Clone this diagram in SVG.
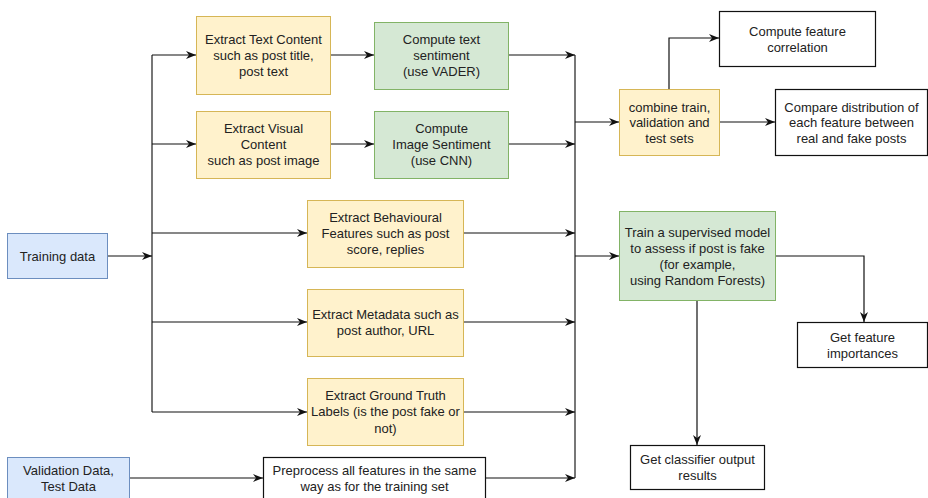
<svg xmlns="http://www.w3.org/2000/svg" width="928" height="498" viewBox="0 0 928 498">
<style>
  text { font-family: "Liberation Sans", Arial, Helvetica, sans-serif; font-size: 13px; fill: #222; text-anchor: middle; dominant-baseline: central; }
  .y { fill: #fff2cc; stroke: #d6b656; stroke-width: 1; }
  .g { fill: #d5e8d4; stroke: #82b366; stroke-width: 1; }
  .b { fill: #dae8fc; stroke: #6c8ebf; stroke-width: 1; }
  .w { fill: #ffffff; stroke: #111; stroke-width: 1.2; }
  .c { fill: none; stroke: #111; stroke-width: 1.2; }
  .bus { fill: none; stroke: #555; stroke-width: 1.6; }
</style>
<defs>
  <marker id="ah" markerUnits="userSpaceOnUse" markerWidth="10" markerHeight="10" refX="10" refY="5" orient="auto">
    <path d="M0,1 L10,5 L0,9 L3,5 z" fill="#111"/>
  </marker>
</defs>
<rect width="928" height="498" fill="#ffffff"/>

<g id="connectors">
  <path class="bus" d="M152,55 V412"/>
  <path class="bus" d="M575,55 V478"/>
  <path class="c" d="M107,256 H152" marker-end="url(#ah)"/>
  <path class="c" d="M152,55 H196" marker-end="url(#ah)"/>
  <path class="c" d="M152,144 H196" marker-end="url(#ah)"/>
  <path class="c" d="M152,233 H307" marker-end="url(#ah)"/>
  <path class="c" d="M152,322 H307" marker-end="url(#ah)"/>
  <path class="c" d="M152,412 H307" marker-end="url(#ah)"/>
  <path class="c" d="M331,55 H374" marker-end="url(#ah)"/>
  <path class="c" d="M331,144 H374" marker-end="url(#ah)"/>
  <path class="c" d="M509,55 H575" marker-end="url(#ah)"/>
  <path class="c" d="M509,144 H575" marker-end="url(#ah)"/>
  <path class="c" d="M464,233 H575" marker-end="url(#ah)"/>
  <path class="c" d="M464,322 H575" marker-end="url(#ah)"/>
  <path class="c" d="M464,412 H575" marker-end="url(#ah)"/>
  <path class="c" d="M130,478 H263" marker-end="url(#ah)"/>
  <path class="c" d="M486,478 H575" marker-end="url(#ah)"/>
  <path class="c" d="M575,122 H619" marker-end="url(#ah)"/>
  <path class="c" d="M575,256 H619" marker-end="url(#ah)"/>
  <path class="c" d="M669,89 V38 H719" marker-end="url(#ah)"/>
  <path class="c" d="M719,122 H775" marker-end="url(#ah)"/>
  <path class="c" d="M775,256 H864 V322" marker-end="url(#ah)"/>
  <path class="c" d="M697,300 V445" marker-end="url(#ah)"/>
</g>

<g id="training-data">
  <rect class="b" x="7.5" y="233.5" width="100" height="45"/>
  <text x="57.5" y="256">Training data</text>
</g>
<g id="validation-data">
  <rect class="b" x="7.5" y="457.5" width="122" height="50"/>
  <text x="68.5" y="470">Validation Data,</text>
  <text x="68.5" y="486">Test Data</text>
</g>
<g id="extract-text">
  <rect class="y" x="196.5" y="16.5" width="134" height="78"/>
  <text x="263.5" y="39">Extract Text Content</text>
  <text x="263.5" y="55">such as post title,</text>
  <text x="263.5" y="71">post text</text>
</g>
<g id="extract-visual">
  <rect class="y" x="196.5" y="111.5" width="134" height="67"/>
  <text x="263.5" y="128">Extract Visual</text>
  <text x="263.5" y="144">Content</text>
  <text x="263.5" y="160">such as post image</text>
</g>
<g id="text-sentiment">
  <rect class="g" x="374.5" y="22.5" width="134" height="67"/>
  <text x="441.5" y="39">Compute text</text>
  <text x="441.5" y="55">sentiment</text>
  <text x="441.5" y="71">(use VADER)</text>
</g>
<g id="image-sentiment">
  <rect class="g" x="374.5" y="111.5" width="134" height="67"/>
  <text x="441.5" y="128">Compute</text>
  <text x="441.5" y="144">Image Sentiment</text>
  <text x="441.5" y="160">(use CNN)</text>
</g>
<g id="behavioural">
  <rect class="y" x="307.5" y="200.5" width="156" height="67"/>
  <text x="385.5" y="217">Extract Behavioural</text>
  <text x="385.5" y="233">Features such as post</text>
  <text x="385.5" y="249">score, replies</text>
</g>
<g id="metadata">
  <rect class="y" x="307.5" y="289.5" width="156" height="67"/>
  <text x="385.5" y="314">Extract Metadata such as</text>
  <text x="385.5" y="330">post author, URL</text>
</g>
<g id="ground-truth">
  <rect class="y" x="307.5" y="378.5" width="156" height="67"/>
  <text x="385.5" y="395">Extract Ground Truth</text>
  <text x="385.5" y="411">Labels (is the post fake or</text>
  <text x="385.5" y="428">not)</text>
</g>
<g id="preprocess">
  <rect class="w" x="263.5" y="457.5" width="222" height="50"/>
  <text x="374.5" y="470">Preprocess all features in the same</text>
  <text x="374.5" y="486">way as for the training set</text>
</g>
<g id="combine">
  <rect class="y" x="619.5" y="89.5" width="100" height="66"/>
  <text x="669.5" y="107">combine train,</text>
  <text x="669.5" y="122">validation and</text>
  <text x="669.5" y="138">test sets</text>
</g>
<g id="feature-correlation">
  <rect class="w" x="719.5" y="11.5" width="156" height="55"/>
  <text x="797.5" y="31">Compute feature</text>
  <text x="797.5" y="47">correlation</text>
</g>
<g id="compare-distribution">
  <rect class="w" x="775.5" y="89.5" width="152" height="66"/>
  <text x="851.5" y="107">Compare distribution of</text>
  <text x="851.5" y="122">each feature between</text>
  <text x="851.5" y="138">real and fake posts</text>
</g>
<g id="train-model">
  <rect class="g" x="619.5" y="211.5" width="156" height="89"/>
  <text x="697.5" y="232">Train a supervised model</text>
  <text x="697.5" y="248">to assess if post is fake</text>
  <text x="697.5" y="264">(for example,</text>
  <text x="697.5" y="280">using Random Forests)</text>
</g>
<g id="feature-importances">
  <rect class="w" x="797.5" y="322.5" width="130" height="45"/>
  <text x="862.5" y="337">Get feature</text>
  <text x="862.5" y="353">importances</text>
</g>
<g id="classifier-output">
  <rect class="w" x="630.5" y="445.5" width="134" height="44"/>
  <text x="697.5" y="459">Get classifier output</text>
  <text x="697.5" y="475">results</text>
</g>
</svg>
